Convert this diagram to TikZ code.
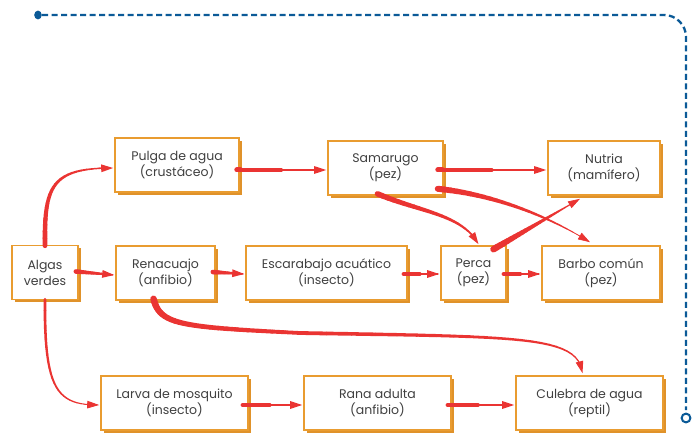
\documentclass[tikz,border=0pt]{standalone}
\usepackage{fontspec}
\setmainfont{Poppins}
\usetikzlibrary{arrows.meta,shadows,calc}
\definecolor{boxor}{HTML}{E99C30}
\definecolor{shador}{HTML}{E0922A}
\definecolor{arred}{HTML}{EA3432}
\definecolor{dblue}{HTML}{0B5A97}
\definecolor{txt}{HTML}{404040}
% sample 25 points along a Bezier curve
\newcommand\tpath[4]{%
  \foreach \k in {0,...,24}{%
    \path #1 .. controls #2 and #3 .. #4 coordinate[pos=\k/24] (tp\k);}}
% tapered line without tip
\newcommand\tline[6]{%
  \tpath{#1}{#2}{#3}{#4}%
  \foreach \i in {0,...,23}{%
    \pgfmathtruncatemacro\j{\i+1}%
    \pgfmathsetmacro\w{#5-(#5-#6)*\i/23}%
    \draw[arred, line width=\w pt, line cap=round] (tp\i) -- (tp\j);}}
% tapered curved arrow
\newcommand\tarrow[6]{%
  \tpath{#1}{#2}{#3}{#4}%
  \foreach \i in {0,...,22}{%
    \pgfmathtruncatemacro\j{\i+1}%
    \pgfmathsetmacro\w{#5-(#5-#6)*\i/22}%
    \draw[arred, line width=\w pt, line cap=round] (tp\i) -- (tp\j);}%
  \draw[arred, line width=#6 pt, -{Triangle[length=12pt,width=7.5pt]}] (tp22) -- (tp24);}
% tapered straight arrow
\newcommand\tsarrow[4]{%
  \tarrow{#1}{($#1!0.3333!#2$)}{($#1!0.6667!#2$)}{#2}{#3}{#4}}
\begin{document}
\begin{tikzpicture}[x=1pt,y=-1pt,
  box/.style={draw=boxor, line width=1.6pt, fill=white, align=center,
    minimum height=54pt, inner sep=2pt, text=txt,
    font=\fontsize{12.5}{16}\selectfont,
    general shadow={shadow xshift=2.6pt, shadow yshift=-2.6pt, fill=shador}},
  blueline/.style={draw=dblue, line width=2.3pt, dash pattern=on 6pt off 3.5pt}
]
\useasboundingbox (0,0) rectangle (695,435);

% boxes
\node[box, minimum width=66pt]  (alg) at (45,272.5) {Algas\\verdes};
\node[box, minimum width=124pt] (pul) at (177,165) {Pulga de agua\\(crustáceo)};
\node[box, minimum width=115pt] (sam) at (385.5,168) {Samarugo\\(pez)};
\node[box, minimum width=112pt] (nut) at (604,168) {Nutria\\(mamífero)};
\node[box, minimum width=99pt]  (ren) at (165.5,273) {Renacuajo\\(anfibio)};
\node[box, minimum width=161pt] (esc) at (326.5,273) {Escarabajo acuático\\(insecto)};
\node[box, minimum width=65pt]  (per) at (473.5,273) {Perca\\(pez)};
\node[box, minimum width=118pt] (bar) at (601,273) {Barbo común\\(pez)};
\node[box, minimum width=147pt] (lar) at (174.5,403) {Larva de mosquito\\(insecto)};
\node[box, minimum width=147pt] (ran) at (377.5,403) {Rana adulta\\(anfibio)};
\node[box, minimum width=147pt] (cul) at (589.5,403) {Culebra de agua\\(reptil)};

% connector end points on the boxes
\coordinate (algN) at ([yshift=-1pt]alg.north);
\coordinate (algS) at ([yshift=1pt]alg.south);
\coordinate (algE) at ([xshift=-3pt,yshift=1pt]alg.east);
\coordinate (pulW) at ([xshift=-1pt,yshift=-3pt]pul.west);
\coordinate (pulE) at ([xshift=-3pt,yshift=-5pt]pul.east);
\coordinate (samW) at ([xshift=-1pt,yshift=-2pt]sam.west);
\coordinate (samE) at ([xshift=-6pt,yshift=-2pt]sam.east);
\coordinate (samS) at ([xshift=-8pt,yshift=2pt]sam.south);
\coordinate (samSE) at ([xshift=-6pt,yshift=7pt]sam.south east);
\coordinate (nutW) at ([xshift=-1pt,yshift=-2pt]nut.west);
\coordinate (nutS) at ([xshift=-24pt,yshift=-3pt]nut.south);
\coordinate (renW) at ([xshift=-1pt,yshift=-2pt]ren.west);
\coordinate (renE) at ([xshift=-3pt,yshift=1pt]ren.east);
\coordinate (renS) at ([xshift=-12pt,yshift=2pt]ren.south);
\coordinate (escW) at ([xshift=-1pt,yshift=-1pt]esc.west);
\coordinate (escE) at ([xshift=-4pt,yshift=-1pt]esc.east);
\coordinate (perW) at ([xshift=-1pt,yshift=-1pt]per.west);
\coordinate (perE) at ([xshift=-3pt,yshift=-1pt]per.east);
\coordinate (perN) at ([xshift=5pt,yshift=1pt]per.north);
\coordinate (perNE) at ([xshift=20pt,yshift=-4pt]per.north);
\coordinate (barW) at ([xshift=-1pt,yshift=-1pt]bar.west);
\coordinate (barN) at ([xshift=-11pt,yshift=3pt]bar.north);
\coordinate (larW) at ([xshift=-1pt,yshift=-2pt]lar.west);
\coordinate (larE) at ([xshift=-6pt,yshift=-2pt]lar.east);
\coordinate (ranW) at ([xshift=-1pt,yshift=-2pt]ran.west);
\coordinate (ranE) at ([xshift=-4pt,yshift=-2pt]ran.east);
\coordinate (culW) at ([xshift=-1pt,yshift=-2pt]cul.west);
\coordinate (culN) at ([xshift=-7pt,yshift=2pt]cul.north);
\coordinate (rc) at (300,333);

% arrows
\tarrow{(algN)}{(44,185)}{(52,168)}{(pulW)}{4.8}{1.3}
\tsarrow{(algE)}{(renW)}{4.5}{1.4}
\tarrow{(algS)}{(44,392)}{(58,405)}{(larW)}{2.8}{0.9}
\tsarrow{(pulE)}{(samW)}{5}{1.2}
\tsarrow{(renE)}{(escW)}{4.5}{1.4}
\tline{(renS)}{(160,325)}{(180,327)}{(rc)}{6.5}{3.8}
\tarrow{(rc)}{(520,337)}{(578,335)}{(culN)}{3.8}{1}
\tsarrow{(escE)}{(perW)}{4.5}{1.4}
\tsarrow{(perE)}{(barW)}{4.5}{1.4}
\tsarrow{(samE)}{(nutW)}{5}{1.2}
\tarrow{(samS)}{(420,212)}{(462,214)}{(perN)}{5.5}{1.4}
\tarrow{(samSE)}{(490,194)}{(545,214)}{(barN)}{6}{0.6}
\tsarrow{(perNE)}{(nutS)}{6.5}{0.7}
\tsarrow{(larE)}{(ranW)}{4.5}{1.4}
\tsarrow{(ranE)}{(culW)}{4.5}{1.4}

% blue dashed frame line
\coordinate (d0) at (38,15);
\coordinate (d1) at (686,418);
\coordinate (dc) at (664,15);
\fill[dblue] (d0) ellipse (3.8pt and 4.4pt);
\draw[blueline] ([xshift=4pt]d0) -- (dc) arc[start angle=90, end angle=0, radius=22pt] -- ([yshift=8pt]d1);
\draw[dblue, line width=2pt, fill=white] (d1) circle (4.4pt);
\end{tikzpicture}
\end{document}
